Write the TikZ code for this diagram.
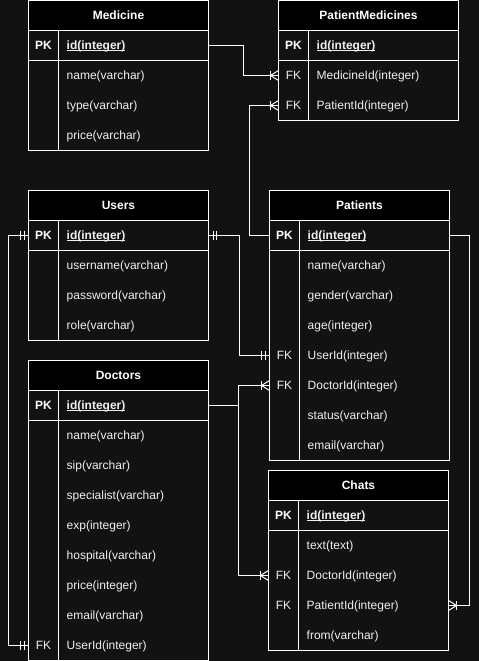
\documentclass[tikz,border=0pt]{standalone}
\usepackage{fontspec}
\setmainfont{Liberation Sans}
\definecolor{bg}{HTML}{121212}
\definecolor{txt}{HTML}{F0F0F0}
\newcommand\idul[1]{\setbox0\hbox{#1}\rlap{\rule[-1.7pt]{\wd0}{0.8pt}}\box0}
\newcommand\ertable[6]{% name, x, y, title, height, unused
  \node[tablebox, minimum height=#5pt] (#1) at (#2,#3) {};
  \node[headbox] (#1-h) at (#2,#3) {#4};
  \draw[conn] (#2,#3+60) -- ++(180,0);
  \draw[conn] (#2+30,#3+30) -- (#2+30,#3+#5);
}
\newcommand\erow[6]{% name, x, y(top), key, field, keystyle
  \node[rowbox] (#1) at (#2,#3) {};
  \node[keytext,#6] (#1-k) at ([xshift=15pt]#1.west) {#4};
  \node[fieldtext] (#1-f) at ([xshift=38pt]#1.west) {#5};
}
\newcommand\crowW[1]{%
  \draw[conn] ([xshift=-8pt,yshift=4.5pt]#1) -- ([xshift=-8pt,yshift=-4.5pt]#1);
  \draw[conn] ([yshift=5pt]#1) -- ([xshift=-8pt]#1) -- ([yshift=-5pt]#1);
}
\newcommand\crowE[1]{%
  \draw[conn] ([xshift=8pt,yshift=4.5pt]#1) -- ([xshift=8pt,yshift=-4.5pt]#1);
  \draw[conn] ([yshift=5pt]#1) -- ([xshift=8pt]#1) -- ([yshift=-5pt]#1);
}
\newcommand\mandW[1]{%
  \draw[conn] ([xshift=-4.5pt,yshift=4.5pt]#1) -- ([xshift=-4.5pt,yshift=-4.5pt]#1);
  \draw[conn] ([xshift=-8pt,yshift=4.5pt]#1) -- ([xshift=-8pt,yshift=-4.5pt]#1);
}
\newcommand\mandE[1]{%
  \draw[conn] ([xshift=4.5pt,yshift=4.5pt]#1) -- ([xshift=4.5pt,yshift=-4.5pt]#1);
  \draw[conn] ([xshift=8pt,yshift=4.5pt]#1) -- ([xshift=8pt,yshift=-4.5pt]#1);
}
\begin{document}
\begin{tikzpicture}[x=1pt,y=-1pt,
  tablebox/.style={draw=white, line width=1pt, fill=bg, minimum width=180pt, inner sep=0pt, outer sep=0pt, anchor=north west},
  headbox/.style={draw=white, line width=1pt, fill=black, minimum width=180pt, minimum height=30pt, inner sep=0pt, outer sep=0pt, anchor=north west, text=white, font=\bfseries\fontsize{12}{14}\selectfont, text height=9.5pt, text depth=1.5pt},
  rowbox/.style={minimum width=180pt, minimum height=30pt, inner sep=0pt, outer sep=0pt, anchor=north west},
  keytext/.style={text=txt, inner sep=0pt, font=\fontsize{12}{14}\selectfont, text height=9.5pt, text depth=1.5pt},
  pk/.style={text=white, font=\bfseries\fontsize{12}{14}\selectfont},
  fk/.style={},
  fieldtext/.style={text=txt, inner sep=0pt, anchor=west, font=\fontsize{12}{14}\selectfont, text height=9.5pt, text depth=1.5pt},
  conn/.style={draw=white, line width=1pt}]
\fill[bg] (0,0) rectangle (479,661);
\useasboundingbox (0,0) rectangle (479,661);
\begin{scope}[shift={(0.5,0.5)}]
% Medicine
\ertable{med}{28}{0}{Medicine}{150}{}
\erow{medId}{28}{30}{PK}{\bfseries\idul{id(integer)}}{pk}
\erow{medName}{28}{60}{}{name(varchar)}{fk}
\erow{medType}{28}{90}{}{type(varchar)}{fk}
\erow{medPrice}{28}{120}{}{price(varchar)}{fk}
% PatientMedicines
\ertable{pm}{278}{0}{PatientMedicines}{120}{}
\erow{pmId}{278}{30}{PK}{\bfseries\idul{id(integer)}}{pk}
\erow{pmMed}{278}{60}{FK}{MedicineId(integer)}{fk}
\erow{pmPat}{278}{90}{FK}{PatientId(integer)}{fk}
% Users
\ertable{usr}{28}{190}{Users}{150}{}
\erow{usrId}{28}{220}{PK}{\bfseries\idul{id(integer)}}{pk}
\erow{usrName}{28}{250}{}{username(varchar)}{fk}
\erow{usrPass}{28}{280}{}{password(varchar)}{fk}
\erow{usrRole}{28}{310}{}{role(varchar)}{fk}
% Patients
\ertable{pat}{269}{190}{Patients}{270}{}
\erow{patId}{269}{220}{PK}{\bfseries\idul{id(integer)}}{pk}
\erow{patName}{269}{250}{}{name(varchar)}{fk}
\erow{patGender}{269}{280}{}{gender(varchar)}{fk}
\erow{patAge}{269}{310}{}{age(integer)}{fk}
\erow{patUser}{269}{340}{FK}{UserId(integer)}{fk}
\erow{patDoc}{269}{370}{FK}{DoctorId(integer)}{fk}
\erow{patStatus}{269}{400}{}{status(varchar)}{fk}
\erow{patEmail}{269}{430}{}{email(varchar)}{fk}
% Doctors
\ertable{doc}{28}{360}{Doctors}{300}{}
\erow{docId}{28}{390}{PK}{\bfseries\idul{id(integer)}}{pk}
\erow{docName}{28}{420}{}{name(varchar)}{fk}
\erow{docSip}{28}{450}{}{sip(varchar)}{fk}
\erow{docSpec}{28}{480}{}{specialist(varchar)}{fk}
\erow{docExp}{28}{510}{}{exp(integer)}{fk}
\erow{docHosp}{28}{540}{}{hospital(varchar)}{fk}
\erow{docPrice}{28}{570}{}{price(integer)}{fk}
\erow{docEmail}{28}{600}{}{email(varchar)}{fk}
\erow{docUser}{28}{630}{FK}{UserId(integer)}{fk}
% Chats
\ertable{chat}{268}{470}{Chats}{180}{}
\erow{chatId}{268}{500}{PK}{\bfseries\idul{id(integer)}}{pk}
\erow{chatText}{268}{530}{}{text(text)}{fk}
\erow{chatDoc}{268}{560}{FK}{DoctorId(integer)}{fk}
\erow{chatPat}{268}{590}{FK}{PatientId(integer)}{fk}
\erow{chatFrom}{268}{620}{}{from(varchar)}{fk}
% connectors
\draw[conn] (medId.east) -- ++(35,0) |- (pmMed.west);
\crowW{pmMed.west}
\draw[conn] (patId.west) -- ++(-20,0) |- (pmPat.west);
\crowW{pmPat.west}
\draw[conn] (usrId.east) -- ++(31,0) |- (patUser.west);
\mandE{usrId.east}
\mandW{patUser.west}
\draw[conn] (docId.east) -- ++(30,0) |- (patDoc.west);
\crowW{patDoc.west}
\draw[conn] (docId.east) -- ++(30,0) |- (chatDoc.west);
\crowW{chatDoc.west}
\draw[conn] (patId.east) -- ++(20,0) |- (chatPat.east);
\crowE{chatPat.east}
\draw[conn] (usrId.west) -- ++(-20,0) |- (docUser.west);
\mandW{usrId.west}
\mandW{docUser.west}
\end{scope}
\end{tikzpicture}
\end{document}
